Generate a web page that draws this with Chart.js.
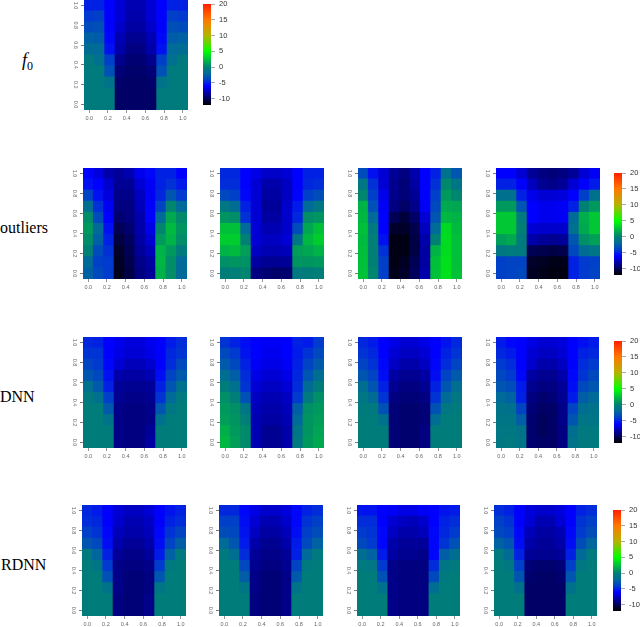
<!DOCTYPE html>
<html>
<head>
<meta charset="utf-8">
<title>Heat maps</title>
<script src="https://cdn.jsdelivr.net/npm/chart.js@4"></script>
<style>
  html,body{margin:0;padding:0;background:#fff;}
  #page{position:relative;width:640px;height:627px;overflow:hidden;}
  #page canvas{position:absolute;}
  .rowName{position:absolute;font:16px "Liberation Serif",serif;color:#000;line-height:18px;white-space:nowrap;}
</style>
</head>
<body>
<div id="page">
  <div class="rowName" style="left:22px;top:51px;font-size:18px"><i>f</i><span style="font-size:12px;position:relative;top:4px">0</span></div>
  <div class="rowName" style="left:0;top:219px">outliers</div>
  <div class="rowName" style="left:0;top:388px">DNN</div>
  <div class="rowName" style="left:1px;top:556px">RDNN</div>
</div>
<script>
// heat map cells, rows listed from y=1.0 down to y=0.0
const f0Values=[
  [-5,-5,-6,-7,-7.8,-7.8,-7,-6,-5,-5],
  [-4.2,-4,-6,-7,-8,-8,-7,-6,-4,-4.2],
  [-3.5,-3.3,-6,-7.3,-8.2,-8.2,-7.3,-6,-3.3,-3.5],
  [-2.5,-2.7,-5.8,-7.8,-8.6,-8.6,-7.8,-5.8,-2.7,-2.5],
  [-1.8,-2,-5.5,-8,-9,-9,-8,-5.5,-2,-1.8],
  [-.6,-1.5,-4,-8.7,-9.3,-9.3,-8.7,-4,-1.5,-.6],
  [-.5,-.5,-3.2,-9.2,-9.5,-9.5,-9.2,-3.2,-.5,-.5],
  [-.5,-.5,-1.2,-9.5,-9.6,-9.6,-9.5,-1.2,-.5,-.5],
  [-.5,-.5,-.5,-9.6,-9.6,-9.6,-9.6,-.5,-.5,-.5],
  [-.5,-.5,-.5,-9.6,-9.6,-9.6,-9.6,-.5,-.5,-.5]
];
const outliers1=[
  [-6,-6.8,-8,-8.4,-7.8,-6.4,-5.8,-5,-5,-6],
  [-5.5,-6,-7.2,-8.5,-8.5,-7,-6.2,-5,-4.5,-5.2],
  [-3.8,-5.5,-6.8,-8.8,-8.8,-7.5,-6.2,-4.8,-3,-4.2],
  [-1.5,-4.5,-6.3,-9,-9,-7.6,-6,-3.8,.2,-2],
  [.5,-3.5,-6,-9.4,-9,-8,-6,-2,1.6,.4],
  [1,-2,-5.5,-10,-9.4,-8,-6.6,.2,2.3,.8],
  [.5,-2.5,-5,-10.5,-9.8,-8.2,-7,1,2,.5],
  [0,-3.5,-4.5,-11,-10,-8.4,-7.6,2,1,-.5],
  [-2,-4,-4.2,-11.2,-10.2,-8.8,-8.2,2.1,.5,-2],
  [-2.5,-3.6,-4.2,-11.3,-10.4,-9,-8.4,1.9,.5,-2]
];
const outliers2=[
  [-4.8,-4.8,-6,-6.6,-7.3,-7.3,-7,-6,-5,-5],
  [-4.6,-4.6,-6,-7,-8,-8,-7.4,-6,-4.8,-4.6],
  [-3.6,-4,-5.8,-7,-8.2,-8.2,-7.4,-5.9,-4,-3.4],
  [-.8,-1.8,-5,-7,-8.4,-8.4,-7.2,-5.2,-2,-.8],
  [.8,.5,-4.5,-7,-8.2,-8.2,-7.2,-4.8,.5,.8],
  [2.5,2.5,-2,-7,-7.8,-7.8,-7.2,-3.5,1.5,2.5],
  [3,3,0,-7,-7.4,-7.4,-7,-1,2.2,3],
  [2,2.3,1.2,-7.4,-7.8,-7.8,-7.6,1.2,1.5,2],
  [.6,.8,.7,-8.2,-8.5,-8.5,-8.4,.8,.8,1],
  [-.3,-.2,.2,-9,-9.3,-9.5,-9.4,-.6,-.4,-.2]
];
const outliers3=[
  [-3.5,-5.5,-7,-8.5,-9,-8,-6,-5,-1.5,-3],
  [-.8,-4.5,-7,-8.7,-9.2,-8.2,-6,-4.5,.3,-1],
  [.2,-4,-6.5,-8.8,-9.2,-8.5,-6,-4,1,.2],
  [2,-3.2,-6.2,-9,-9.6,-8.8,-6.2,-3.6,1.6,1.5],
  [2.2,-2,-6,-10,-10.6,-9.6,-7,-3,2.2,2],
  [2.5,-.5,-6,-11,-11,-10.2,-7.5,-2,3.5,2.3],
  [2.3,0,-5.5,-11.5,-11.5,-10.4,-8,0,3.6,2.5],
  [2.4,0,-4.5,-11.5,-11.5,-10.4,-8.2,2,3.6,2.5],
  [2.5,0,-4,-11.5,-11.2,-10,-8.2,2.5,3.8,2.5],
  [2.6,.2,-4,-11.4,-11,-9.8,-8,2.6,3.8,2.6]
];
const outliers4=[
  [-6,-6,-7,-8.4,-9,-9.2,-9,-8.4,-7,-6.2],
  [-5,-5,-6,-7.5,-8.6,-8.8,-8.4,-7,-6,-5.2],
  [-1.5,-1.5,-5,-6.5,-7,-7,-6.8,-6,-4,-1.5],
  [1,1,-3,-6,-6.4,-6.4,-6.2,-5,0,1],
  [2.8,2.8,-.5,-6,-6.4,-6.4,-6.2,-2,1.8,2.8],
  [2.8,2.8,0,-7,-7.2,-7.2,-7.2,-1.5,1.6,2.8],
  [1.2,1.6,-.5,-8,-8.4,-8.6,-8.4,-3,.6,1.3],
  [-.8,-.5,-.6,-10,-10.2,-10.4,-10.2,-3.6,-1.8,-1],
  [-4,-3.8,-3.8,-11,-11.2,-11.4,-11.4,-5,-4.2,-4],
  [-4,-3.8,-3.6,-11.2,-11.4,-11.6,-11.6,-5,-4.2,-3.8]
];
const dnn1=[
  [-4.8,-5,-6,-6.4,-6.8,-6.8,-6.4,-6,-5.2,-4.6],
  [-4.4,-4.4,-6,-6.6,-7,-7,-6.6,-6,-4.8,-4.4],
  [-3.8,-4.2,-5.8,-7,-7.6,-7.6,-7.2,-6,-4.6,-3.6],
  [-3,-3.6,-5.5,-8,-8.2,-8.2,-7.8,-5.6,-3.8,-2.8],
  [-1.5,-2.8,-5,-8.4,-8.6,-8.6,-8.4,-5,-3,-1.5],
  [-.6,-1.5,-4,-8.6,-8.8,-8.8,-8.6,-4.4,-2,-.6],
  [-.4,-.4,-2.8,-8.8,-9,-9,-8.8,-3,-.8,-.4],
  [-.4,-.4,-1.2,-8.8,-9,-9,-8.8,-1.5,-.4,-.4],
  [-.4,-.4,-.4,-8.8,-9,-9,-8.4,-.4,-.4,-.4],
  [-.4,-.4,-.4,-8.8,-9,-9,-8.2,-.4,-.4,-.4]
];
const dnn2=[
  [-4.4,-5,-5.6,-6,-6.2,-6.2,-6,-5,-5.2,-4.2],
  [-3.6,-4.2,-5.4,-6,-6.4,-6.4,-6,-5.2,-4.4,-3.6],
  [-2.8,-3.6,-5,-6.2,-6.6,-6.6,-6.2,-5,-3.8,-2.8],
  [-1.6,-2.6,-4.6,-6.6,-7,-7,-6.6,-4.8,-3,-1.6],
  [-.4,-1.5,-4.4,-7,-7.4,-7.4,-7,-4.6,-1.8,-.4],
  [.6,-.2,-3.2,-7.4,-7.8,-7.8,-7.4,-4.2,-.6,.6],
  [1,.6,-1,-7.6,-8,-8,-7.6,-2.6,.6,1],
  [1.2,.8,-.2,-7.8,-8.2,-8.2,-7.8,-2,.8,1.2],
  [1.8,1,.4,-7.8,-8.6,-8.6,-8,-1,.8,1.4],
  [2.2,1.2,.4,-7.8,-8.6,-8.6,-8,-.6,1,1.6]
];
const dnn3=[
  [-4.8,-5.2,-6,-6.6,-7,-7,-6.6,-6,-5.4,-4.8],
  [-4.4,-4.8,-6,-7,-7.4,-7.4,-7,-6,-5,-4.4],
  [-3.8,-4.4,-5.8,-7.4,-8,-8,-7.4,-5.8,-4.6,-3.8],
  [-3,-3.8,-5.6,-8.2,-8.6,-8.6,-8.2,-5.6,-3.8,-2.8],
  [-1.6,-3,-5,-8.6,-9,-9,-8.6,-5,-3,-1.6],
  [-.8,-1.8,-4.4,-9,-9.2,-9.2,-9,-4.4,-2,-.8],
  [-.5,-.6,-3.2,-9.2,-9.4,-9.4,-9.2,-3.2,-.8,-.5],
  [-.4,-.4,-1.4,-9.2,-9.4,-9.4,-9.2,-1.6,-.4,-.4],
  [-.4,-.4,-.4,-9.2,-9.4,-9.4,-9,-.4,-.4,-.4],
  [-.4,-.4,-.4,-9.2,-9.4,-9.4,-9,-.4,-.4,-.4]
];
const dnn4=[
  [-5.2,-5.8,-6,-6.6,-7,-7,-6.8,-6,-5.6,-5.2],
  [-4.8,-5.2,-6,-7,-7.4,-7.4,-7,-6,-5,-4.8],
  [-4.2,-4.6,-6,-7.2,-8,-8,-7.4,-6,-4.6,-4.2],
  [-3.6,-4.2,-5.8,-8.2,-8.6,-8.6,-8,-5.8,-4.4,-3.6],
  [-3,-3.4,-5.2,-8.6,-9,-9,-8.4,-5.6,-3.6,-3],
  [-2,-2.4,-5,-9,-9.4,-9.2,-8.6,-5.2,-2.6,-2],
  [-1.2,-1.4,-3.8,-9.2,-9.6,-9.6,-8.8,-3.8,-1.6,-1.2],
  [-1,-1,-2.6,-9.4,-9.8,-9.6,-8.8,-3,-1,-1],
  [-.8,-.8,-1.2,-9.4,-9.8,-9.6,-9,-1.6,-.6,-.6],
  [-.8,-.6,-1,-9.4,-9.6,-9.6,-9,-1.2,-.6,-.6]
];
const rdnn1=[
  [-4.8,-5.2,-6,-7,-7.4,-7.4,-7,-6,-5.4,-5],
  [-4.6,-4.8,-6,-7.2,-7.8,-7.8,-7.4,-6,-5,-4.6],
  [-4,-4.4,-5.8,-7.6,-8,-8,-7.6,-5.8,-4.4,-3.8],
  [-3,-3.6,-5.6,-8,-8.4,-8.4,-8,-5.6,-3.8,-2.6],
  [-.6,-2.2,-5,-8.4,-8.8,-8.8,-8.4,-5.2,-2.4,-.6],
  [-.4,-1,-4.2,-8.8,-9,-9,-8.8,-4.2,-.6,-.4],
  [-.4,-.4,-3.2,-8.8,-9.2,-9.2,-9,-3,-.4,-.4],
  [-.4,-.4,-1.2,-8.8,-9.2,-9.2,-9,-1,-.4,-.4],
  [-.4,-.4,-.4,-9,-9.2,-9.2,-8.8,-.4,-.4,-.4],
  [-.4,-.4,-.4,-9,-9.2,-9.2,-8.8,-.4,-.4,-.4]
];
const rdnn2=[
  [-4.8,-4.8,-5.8,-6.6,-7.2,-7.2,-6.8,-5.8,-5,-4.6],
  [-4,-4,-5.6,-7,-7.8,-7.8,-7.2,-5.8,-4.4,-4],
  [-3.4,-3.6,-5.4,-7.4,-8.2,-8.2,-7.6,-5.6,-4,-3.4],
  [-2,-3,-5.2,-8,-8.6,-8.6,-8,-5.2,-3.6,-2.4],
  [-.6,-1.6,-4.6,-8.4,-8.8,-8.8,-8.4,-5,-2,-.6],
  [-.4,-.4,-3.6,-8.6,-9,-9,-8.6,-3.8,-.6,-.4],
  [-.4,-.4,-2.6,-8.8,-9.2,-9.2,-8.8,-2.8,-.4,-.4],
  [-.4,-.4,-1,-8.8,-9.2,-9.2,-8.8,-1.2,-.4,-.4],
  [-.4,-.4,-.4,-9,-9.2,-9.2,-8.8,-.4,-.4,-.4],
  [-.4,-.4,-.4,-9,-9.2,-9.2,-8.8,-.4,-.4,-.4]
];
const rdnn3=[
  [-5.4,-5.4,-6,-6.2,-6.6,-6.6,-6.2,-6,-5.4,-5.2],
  [-4.6,-4.6,-6,-7,-7.4,-7.6,-7.2,-6,-5,-4.6],
  [-4.2,-4.4,-5.8,-7.4,-8,-8,-7.6,-5.8,-4.8,-4.2],
  [-3.6,-4.2,-5.8,-8,-8.4,-8.4,-8.4,-5.8,-4.4,-3.2],
  [-1.6,-2.4,-5.2,-8.2,-8.6,-8.6,-8.8,-5.8,-2.6,-1.6],
  [-.6,-.8,-4.2,-8.8,-9,-9,-9,-4.6,-1,-.6],
  [-.4,-.4,-3.2,-8.8,-9,-9,-9,-3.6,-.6,-.4],
  [-.4,-.4,-1.4,-8.8,-9,-9,-9,-1.6,-.4,-.4],
  [-.4,-.4,-.4,-8.8,-9,-9,-9,-.4,-.4,-.4],
  [-.4,-.4,-.4,-8.8,-9,-9,-9,-.4,-.4,-.4]
];
const rdnn4=[
  [-4.6,-5,-6,-6.8,-7.2,-7.2,-6.8,-6,-5,-4.6],
  [-4,-4.4,-6,-7,-7.8,-7.8,-7,-6,-4.4,-4],
  [-3.6,-4,-5.8,-7.6,-8.2,-8.2,-7.8,-5.8,-4.2,-3.4],
  [-2.4,-3,-5.6,-8,-8.4,-8.4,-8,-5.6,-3.4,-2.2],
  [-.6,-1.8,-5,-8.4,-8.6,-8.6,-8.4,-5,-2,-.6],
  [-.4,-.8,-4,-9.2,-9.4,-9.4,-9.2,-4,-.8,-.4],
  [-.4,-.4,-3,-9.4,-9.6,-9.6,-9.4,-3,-.4,-.4],
  [-.4,-.4,-1.4,-9.6,-9.6,-9.6,-9.6,-1.4,-.4,-.4],
  [-.4,-.4,-.4,-9.6,-9.6,-9.6,-9.6,-.4,-.4,-.4],
  [-.4,-.4,-.4,-9.6,-9.6,-9.6,-9.6,-.4,-.4,-.4]
];
const columns=['c1','c2','c3','c4','c5','c6','c7','c8','c9','c10'];
const axisTicks=[0,0.2,0.4,0.6,0.8,1];
const barTicks=[-10,-5,0,5,10,15,20];
const barRange=[-12,20];
const colourValues=[-12,-6,-4,-2,0,5,10,15,20];
const colourHexes=['#000000','#0000ff','#0040c8','#006a98','#008074','#00ff00','#b4b400','#ff7800','#ff2000'];

const page=document.getElementById('page');
const tickFont={family:'"Liberation Sans",Arial,sans-serif',size:5.5};
const barFont={family:'"Liberation Sans",Arial,sans-serif',size:7.5};

function rgb(h){return [1,3,5].map(i=>parseInt(h.substr(i,2),16));}
function cellColor(v){
  let i=0;
  while(i<colourValues.length-2 && v>colourValues[i+1]) i++;
  const t=Math.max(0,Math.min(1,(v-colourValues[i])/(colourValues[i+1]-colourValues[i])));
  const a=rgb(colourHexes[i]),b=rgb(colourHexes[i+1]);
  return 'rgb('+a.map((c,k)=>Math.round(c+(b[k]-c)*t)).join(',')+')';
}
function addCanvas(left,top,w,h){
  const c=document.createElement('canvas');
  c.width=w;c.height=h;
  c.style.left=left+'px';c.style.top=top+'px';
  c.style.width=w+'px';c.style.height=h+'px';
  page.appendChild(c);
  return c.getContext('2d');
}
function setTicks(list){return s=>{s.ticks=list.map(v=>({value:v}));};}
// keep the tick labels from shrinking the plot area
function fixAxis(s,size){
  if(s.isHorizontal()) s.height=size; else s.width=size;
  s.paddingTop=s.paddingBottom=s.paddingLeft=s.paddingRight=0;
}

const axisW=16,axisH=14;
function heatMap(values,left,top,w,h){
  const ctx=addCanvas(left-axisW,top,w+axisW,h+axisH);
  const rows=values.slice().reverse();
  new Chart(ctx,{
    type:'bar',
    data:{
      labels:columns,
      datasets:rows.map(r=>({
        data:r.map(()=>1),
        backgroundColor:r.map(cellColor),
        barPercentage:1,categoryPercentage:1,borderWidth:0,inflateAmount:0.5
      }))
    },
    options:{
      responsive:false,animation:false,
      layout:{padding:0,autoPadding:false},
      plugins:{legend:{display:false},tooltip:{enabled:false}},
      scales:{
        x:{stacked:true,display:false},
        y:{stacked:true,display:false,min:0,max:10},
        xAxis:{
          axis:'x',type:'linear',position:'bottom',offset:false,min:-1/18,max:1+1/18,
          afterBuildTicks:setTicks(axisTicks),
          afterFit:s=>fixAxis(s,axisH),
          border:{display:false},
          grid:{offset:false,drawOnChartArea:false,tickLength:3,tickColor:'#666',tickWidth:0.7},
          ticks:{font:tickFont,color:'#666',padding:2,minRotation:0,maxRotation:0,autoSkip:false,callback:v=>v.toFixed(1)}
        },
        yAxis:{
          axis:'y',type:'linear',position:'left',min:-1/18,max:1+1/18,
          afterBuildTicks:setTicks(axisTicks),
          afterFit:s=>fixAxis(s,axisW),
          border:{display:false},
          grid:{drawOnChartArea:false,tickLength:3,tickColor:'#444',tickWidth:0.7},
          ticks:{font:tickFont,color:'#666',padding:2,minRotation:-90,maxRotation:-90,crossAlign:'center',autoSkip:false,callback:v=>v.toFixed(1)}
        }
      }
    }
  });
}
function colourBar(left,top,w,h){
  const ctx=addCanvas(left,top-4,w+26,h+8);
  new Chart(ctx,{
    type:'bar',
    data:{
      labels:['level'],
      datasets:[{
        data:[barRange],
        barPercentage:1,categoryPercentage:1,borderWidth:0,borderSkipped:false,
        backgroundColor:c=>{
          const a=c.chart.chartArea;
          if(!a) return colourHexes[0];
          const g=c.chart.ctx.createLinearGradient(0,a.bottom,0,a.top);
          colourValues.forEach((v,i)=>g.addColorStop((v-barRange[0])/(barRange[1]-barRange[0]),colourHexes[i]));
          return g;
        }
      }]
    },
    options:{
      responsive:false,animation:false,
      layout:{padding:{top:4,bottom:4},autoPadding:false},
      plugins:{legend:{display:false},tooltip:{enabled:false}},
      scales:{
        x:{display:false},
        y:{
          position:'right',min:barRange[0],max:barRange[1],
          afterBuildTicks:setTicks(barTicks),
          afterFit:s=>fixAxis(s,26),
          border:{display:false},
          grid:{drawOnChartArea:false,tickLength:4,tickColor:'#888',tickWidth:0.7},
          ticks:{font:barFont,color:'#333',padding:4,autoSkip:false}
        }
      }
    }
  });
}

heatMap(f0Values,84,0,104,110);
colourBar(203,4,8,101);

heatMap(outliers1,83,168,104,111);
heatMap(outliers2,220,168,104,111);
heatMap(outliers3,358,168,104,111);
heatMap(outliers4,496,168,104,111);
colourBar(614,173,8,102);

heatMap(dnn1,83,337,104,111);
heatMap(dnn2,220,337,104,111);
heatMap(dnn3,358,337,104,111);
heatMap(dnn4,496,337,103,111);
colourBar(614,341,8,102);

heatMap(rdnn1,82,505,104,111);
heatMap(rdnn2,219,505,104,111);
heatMap(rdnn3,357,505,103,111);
heatMap(rdnn4,494,505,103,111);
colourBar(613,510,8,101);
</script>
</body>
</html>
